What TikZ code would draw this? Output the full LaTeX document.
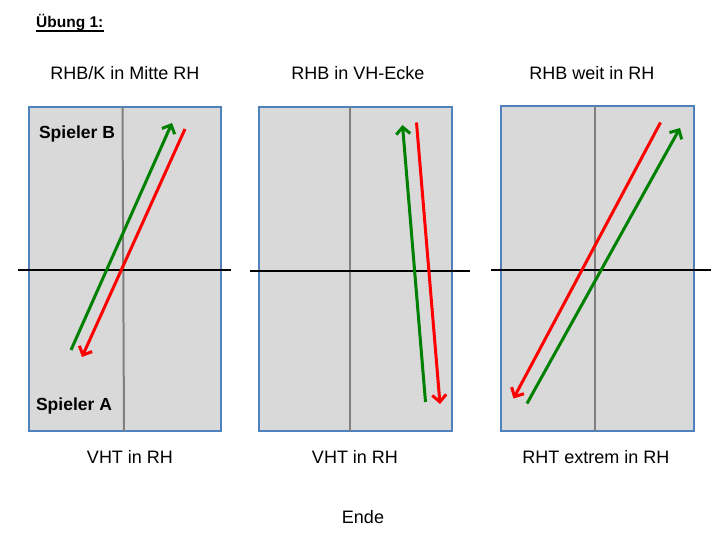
\documentclass[tikz,border=0pt]{standalone}
\usepackage{fontspec}
\setmainfont{Liberation Sans}
\usetikzlibrary{arrows.meta}
\definecolor{tablegray}{RGB}{217,217,217}
\definecolor{tableblue}{RGB}{79,129,189}
\definecolor{midgray}{RGB}{128,128,128}
\definecolor{shotgreen}{RGB}{0,128,0}
\definecolor{shotred}{RGB}{255,0,0}
\tikzset{
  caption/.style={anchor=base,inner sep=0,font=\fontsize{18}{20}\selectfont},
  player/.style={anchor=base,inner sep=0,font=\fontsize{17.5}{20}\selectfont\bfseries},
  tablebox/.style={fill=tablegray,draw=tableblue,line width=2},
  midline/.style={draw=midgray,line width=2},
  netline/.style={draw=black,line width=2},
  greenshot/.style={draw=shotgreen,line width=3,->},
  redshot/.style={draw=shotred,line width=3,->}
}
\begin{document}
\begin{tikzpicture}[x=1pt,y=-1pt,>={Straight Barb[length=7pt,width=14pt]}]
  \useasboundingbox (0,0) rectangle (720,540);

  \node (head) at (36,28) [anchor=base west,inner sep=0,font=\fontsize{15.5}{18}\selectfont\bfseries] {Übung 1:};
  \draw[line width=1.2] (head.base west) ++(0,3) -- ([yshift=-3pt]head.base east);

  % table 1
  \node (t1) at (125,79.5) [caption] {RHB/K in Mitte RH};
  \draw[tablebox] (29,107) rectangle (221,431);
  \draw[midline] (122.5,107) -- (124,431);
  \draw[netline] (18,270) -- (231,270);
  \node (pB) at (77,138.5) [player] {Spieler B};
  \node (pA) at (74,410.5) [player] {Spieler A};
  \coordinate (g1a) at (71,350);
  \coordinate (g1b) at (172,123);
  \coordinate (r1a) at (185,129);
  \coordinate (r1b) at (82,357);
  \draw[greenshot] (g1a) -- (g1b);
  \draw[redshot] (r1a) -- (r1b);
  \node (b1) at (130,463.5) [caption] {VHT in RH};

  % table 2
  \node (t2) at (358,79.5) [caption] {RHB in VH-Ecke};
  \draw[tablebox] (258.5,107) rectangle (452,431);
  \draw[midline] (350,107) -- (350,431);
  \draw[netline] (250,271) -- (470,271);
  \coordinate (g2a) at (425.5,402);
  \coordinate (g2b) at (402.5,125);
  \coordinate (r2a) at (416.5,122.5);
  \coordinate (r2b) at (440,404);
  \draw[greenshot] (g2a) -- (g2b);
  \draw[redshot] (r2a) -- (r2b);
  \node (b2) at (355,463.5) [caption] {VHT in RH};

  % table 3
  \node (t3) at (592,79.5) [caption] {RHB weit in RH};
  \draw[tablebox] (500.5,106.5) rectangle (694,430.5);
  \draw[midline] (595,106.5) -- (595,430.5);
  \draw[netline] (491,270) -- (711,270);
  \coordinate (r3a) at (660.5,122.5);
  \coordinate (r3b) at (513.5,398.5);
  \coordinate (g3a) at (527,403.5);
  \coordinate (g3b) at (680,128);
  \draw[redshot] (r3a) -- (r3b);
  \draw[greenshot] (g3a) -- (g3b);
  \node (b3) at (596,463.5) [caption] {RHT extrem in RH};

  \node (end) at (363,523.5) [caption] {Ende};

\end{tikzpicture}
\end{document}
